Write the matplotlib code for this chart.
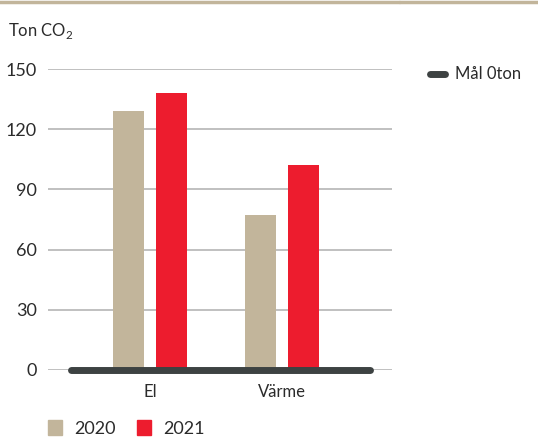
import matplotlib
matplotlib.use("Agg")
import matplotlib.pyplot as plt
import numpy as np
from matplotlib.lines import Line2D

plt.rcParams['font.family'] = ['Lato', 'DejaVu Sans']
plt.rcParams['mathtext.fontset'] = 'custom'
plt.rcParams['mathtext.rm'] = 'Lato'

categories = ["El", "Värme"]
years = ["2020", "2021"]
values_2020 = [129, 77]
values_2021 = [138, 102]
goal = 0

beige = "#C2B59B"
red = "#ED1C2E"
dark = "#3D4242"
text_col = "#2B2B2B"

fig = plt.figure(figsize=(5.38, 4.37), dpi=100)
ax = fig.add_axes([48/538, 1 - 370/437, (392-48)/538, (370-69)/437])

x = np.arange(len(categories))
w = 0.235
off = 0.163
ax.bar(x - off, values_2020, w, color=beige, zorder=2)
ax.bar(x + off, values_2021, w, color=red, zorder=2)

# goal line (Mål 0 ton)
ax.plot([-0.60, 1.665], [goal, goal], color=dark, lw=5, solid_capstyle='round',
        zorder=3, clip_on=False)

ax.set_xlim(-0.773, 1.833)
ax.set_ylim(0, 150)
ax.set_yticks([0, 30, 60, 90, 120, 150])
ax.yaxis.grid(True, color="#B5B5B5", lw=1.2, zorder=0)
ax.set_axisbelow(True)
for s in ax.spines.values():
    s.set_visible(False)
ax.tick_params(axis='y', length=0, pad=8, labelsize=13, labelcolor=text_col)
ax.tick_params(axis='x', length=0, pad=10, labelsize=12, labelcolor=text_col)
ax.set_xticks(x)
ax.set_xticklabels(categories)

# top rule
fig.add_artist(Line2D([0, 398/538], [1 - 1.5/437, 1 - 1.5/437], color=beige, lw=2.5))
fig.add_artist(Line2D([401/538, 1], [1 - 1.5/437, 1 - 1.5/437], color=beige, lw=2.5))

fig.text(8/538, 1 - 31/437, r"Ton CO$_\mathrm{2}$", fontsize=12, color=text_col, va='center')

# goal legend
fig.add_artist(Line2D([430/538, 445/538], [1 - 74/437, 1 - 74/437], color=dark, lw=5,
                      solid_capstyle='round'))
fig.text(455/538, 1 - 74/437, "Mål 0ton", fontsize=12, color=text_col, va='center')

# year legend
for xs, col, lab in [(48, beige, years[0]), (137, red, years[1])]:
    fig.add_artist(plt.Rectangle((xs/538, 2/437), 14/538, 15/437,
                                 color=col, transform=fig.transFigure))
    fig.text((xs + 26)/538, 1 - 429/437, lab, fontsize=13, color=text_col, va='center')

fig.savefig("out.png", dpi=100)
